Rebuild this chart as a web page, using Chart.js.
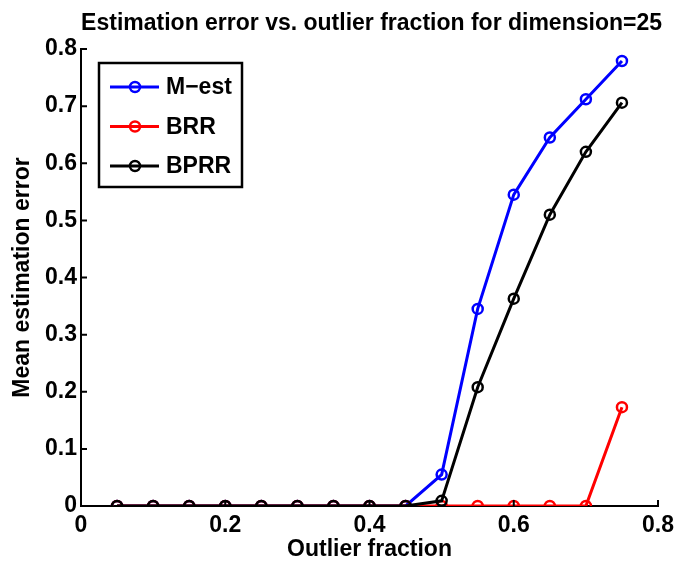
<!DOCTYPE html>
<html>
<head>
<meta charset="utf-8">
<script src="https://cdn.jsdelivr.net/npm/chart.js@4.4.1/dist/chart.umd.min.js"></script>
<style>
  body { margin: 0; background: #fff; }
  #wrap { width: 680px; height: 563px; }
</style>
</head>
<body>
<div id="wrap"><canvas id="chart" width="680" height="563"></canvas></div>
<script>
// values
const fractions = [0.05, 0.1, 0.15, 0.2, 0.25, 0.3, 0.35, 0.4, 0.45, 0.5, 0.55, 0.6, 0.65, 0.7, 0.75];
const mEst = [0, 0, 0, 0, 0, 0, 0, 0, 0, 0.055, 0.345, 0.545, 0.645, 0.712, 0.779];
const brr  = [0, 0, 0, 0, 0, 0, 0, 0, 0, 0, 0, 0, 0, 0, 0.173];
const bprr = [0, 0, 0, 0, 0, 0, 0, 0, 0, 0.009, 0.208, 0.363, 0.51, 0.62, 0.706];
const seriesNames = ["M\u2212est", "BRR", "BPRR"];
const seriesColors = ["#0000ff", "#ff0000", "#000000"];
const FONT = "'Liberation Sans', Arial, Helvetica, sans-serif";
const FSIZE = 23;

const toPoints = arr => arr.map((v, i) => ({ x: fractions[i], y: v }));

function makeSet(label, data, color, order) {
  return {
    label: label,
    data: toPoints(data),
    borderColor: color,
    backgroundColor: 'rgba(0,0,0,0)',
    borderWidth: 3,
    pointRadius: 5,
    pointBorderWidth: 2.5,
    pointBorderColor: color,
    pointBackgroundColor: 'rgba(0,0,0,0)',
    tension: 0,
    order: order
  };
}

// MATLAB style ticks pointing into the axes
const inwardTicks = {
  id: 'inwardTicks',
  afterDraw(chart) {
    const ctx = chart.ctx;
    const xs = chart.scales.x, ys = chart.scales.y;
    const area = chart.chartArea;
    ctx.save();
    ctx.strokeStyle = '#000';
    ctx.lineWidth = 2;
    ctx.beginPath();
    xs.ticks.forEach(t => {
      const px = xs.getPixelForValue(t.value);
      ctx.moveTo(px, area.bottom);
      ctx.lineTo(px, area.bottom - 6);
    });
    ys.ticks.forEach(t => {
      const py = ys.getPixelForValue(t.value);
      ctx.moveTo(area.left, py);
      ctx.lineTo(area.left + 6, py);
    });
    ctx.stroke();
    ctx.restore();
  }
};

// boxed legend inside the axes, upper left
const boxLegend = {
  id: 'boxLegend',
  afterDraw(chart) {
    const ctx = chart.ctx;
    const area = chart.chartArea;
    const bx = area.left + 18, by = area.top + 14, bw = 143, bh = 124;
    ctx.save();
    ctx.fillStyle = '#fff';
    ctx.fillRect(bx, by, bw, bh);
    ctx.strokeStyle = '#000';
    ctx.lineWidth = 2.5;
    ctx.strokeRect(bx, by, bw, bh);
    ctx.font = "bold " + FSIZE + "px " + FONT;
    ctx.textBaseline = 'middle';
    ctx.textAlign = 'left';
    seriesNames.forEach((name, i) => {
      const y = by + 24 + i * 39.5;
      ctx.strokeStyle = seriesColors[i];
      ctx.lineWidth = 3;
      ctx.beginPath();
      ctx.moveTo(bx + 11, y);
      ctx.lineTo(bx + 60, y);
      ctx.stroke();
      ctx.lineWidth = 2.5;
      ctx.beginPath();
      ctx.arc(bx + 36, y, 5, 0, Math.PI * 2);
      ctx.stroke();
      ctx.fillStyle = '#000';
      ctx.fillText(name, bx + 67, y + 1);
    });
    ctx.restore();
  }
};

const axisFont = { family: FONT, size: FSIZE, weight: 'bold' };

new Chart(document.getElementById('chart'), {
  type: 'line',
  data: {
    datasets: [
      makeSet(seriesNames[0], mEst, seriesColors[0], 3),
      makeSet(seriesNames[1], brr, seriesColors[1], 2),
      makeSet(seriesNames[2], bprr, seriesColors[2], 1)
    ]
  },
  options: {
    responsive: false,
    animation: false,
    devicePixelRatio: 1,
    layout: { padding: { left: 0, right: 18, top: 0, bottom: 0 } },
    plugins: {
      legend: { display: false },
      tooltip: { enabled: false },
      title: {
        display: true,
        align: 'end',
        text: 'Estimation error vs. outlier fraction for dimension=25',
        color: '#000',
        font: axisFont,
        padding: { top: 10, bottom: 11.4 }
      }
    },
    scales: {
      x: {
        type: 'linear',
        min: 0,
        max: 0.8,
        ticks: { stepSize: 0.2, color: '#000', padding: 6, font: axisFont },
        grid: { drawOnChartArea: false, drawTicks: false },
        border: { display: true, color: '#000', width: 2 },
        title: {
          display: true,
          text: 'Outlier fraction',
          color: '#000',
          font: axisFont,
          padding: { top: 0, bottom: 0 }
        },
        afterFit(scale) { scale.height = 57; }
      },
      y: {
        type: 'linear',
        min: 0,
        max: 0.8,
        ticks: { stepSize: 0.1, color: '#000', padding: 4, font: axisFont },
        grid: { drawOnChartArea: false, drawTicks: false },
        border: { display: true, color: '#000', width: 2 },
        title: {
          display: true,
          text: 'Mean estimation error',
          color: '#000',
          font: axisFont,
          padding: { top: 9, bottom: 0 }
        },
        afterFit(scale) { scale.width = 81; }
      }
    }
  },
  plugins: [inwardTicks, boxLegend]
});
</script>
</body>
</html>
